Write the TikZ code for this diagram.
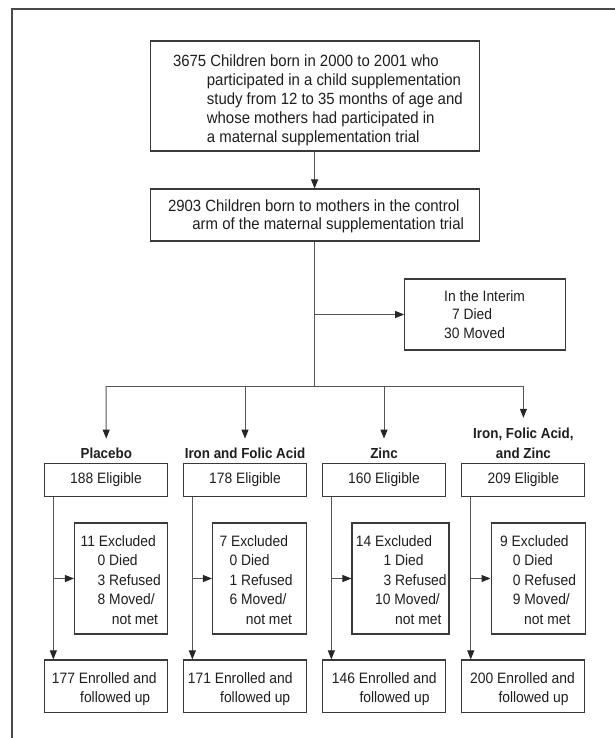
\documentclass[tikz,border=0pt]{standalone}
\usepackage{fontspec}
\setmainfont{Liberation Sans}[FakeStretch=0.92]
\usetikzlibrary{arrows.meta}
\definecolor{boxc}{HTML}{3A3A3A}
\definecolor{linec}{HTML}{555555}
\definecolor{txtc}{HTML}{1E1E1E}
\definecolor{framec}{HTML}{4A4A4A}
\newcommand\tlineB[4]{\node[txtbig] (#1) at (#2,#3) {#4};}
\newcommand\tlineS[4]{\node[txtsmall] (#1) at (#2,#3) {#4};}
\begin{document}
\begin{tikzpicture}[x=1bp,y=-1bp,
  box/.style={draw=boxc, line width=1.1bp, inner sep=0pt},
  conn/.style={draw=linec, line width=1bp},
  arr/.style={conn, -{Triangle[length=9bp,width=7bp,color=black!85]}},
  txtbig/.style={anchor=base west, inner sep=0pt, text=txtc, font=\fontsize{16.3}{19}\selectfont},
  txtsmall/.style={anchor=base west, inner sep=0pt, text=txtc, font=\fontsize{15.1}{19}\selectfont},
  lab/.style={anchor=base, inner sep=0pt, text=txtc, text height=10bp, text depth=0pt, font=\bfseries\fontsize{14.6}{19}\selectfont},
  elig/.style={box, minimum width=123bp, minimum height=33bp, text=txtc, text height=11bp, text depth=4bp, font=\fontsize{15.1}{19}\selectfont},
  enr/.style={box, minimum width=123bp, minimum height=52.7bp},
  excl/.style={box, minimum height=111bp}
]
\useasboundingbox (0,0) rectangle (615,738);
\draw[framec, line width=1.6bp] (11.8,738) -- (11.8,9.2) -- (615,9.2);

% top boxes
\node[box, minimum width=329bp, minimum height=110bp] (top) at (314.6,96) {};
\tlineB{t1}{172.8}{66.7}{3675 Children born in 2000 to 2001 who}
\tlineB{t2}{206.7}{85.8}{participated in a child supplementation}
\tlineB{t3}{206.7}{104.7}{study from 12 to 35 months of age and}
\tlineB{t4}{206.7}{123.5}{whose mothers had participated in}
\tlineB{t5}{206.7}{142.5}{a maternal supplementation trial}

\node[box, minimum width=329bp, minimum height=52bp] (mid) at (314.6,215) {};
\tlineB{m1}{167.8}{211.5}{2903 Children born to mothers in the control}
\tlineB{m2}{192.2}{229.1}{arm of the maternal supplementation trial}

\node[box, minimum width=160.8bp, minimum height=71bp] (interim) at (485.1,314.5) {};
\tlineS{i1}{444}{301.3}{In the Interim}
\tlineS{i2}{451.8}{319.6}{7 Died}
\tlineS{i3}{444}{338}{30 Moved}

% group labels
\node[lab] (lab1) at (106.3,458.3) {Placebo};
\node[lab] (lab2) at (245,458.3) {Iron and Folic Acid};
\node[lab] (lab3) at (384,458.3) {Zinc};
\node[lab] (lab4a) at (523.4,438.3) {Iron, Folic Acid,};
\node[lab] (lab4b) at (523.4,458.3) {and Zinc};

% eligible
\node[elig] (e1) at (106,480.2) {188 Eligible};
\node[elig] (e2) at (245,480.2) {178 Eligible};
\node[elig] (e3) at (384,480.2) {160 Eligible};
\node[elig] (e4) at (523.4,480.2) {209 Eligible};

% excluded
\node[excl, minimum width=93bp] (x1) at (121,578.5) {};
\node[excl, minimum width=94.2bp] (x2) at (259.6,578.5) {};
\node[excl, minimum width=97bp] (x3) at (400.5,578.5) {};
\node[excl, minimum width=94.7bp] (x4) at (538.4,578.5) {};

\tlineS{x1a}{80.5}{546.2}{11 Excluded}
\tlineS{x1b}{97.5}{565.9}{0 Died}
\tlineS{x1c}{97.5}{585.4}{3 Refused}
\tlineS{x1d}{97.5}{604.9}{8 Moved/}
\tlineS{x1e}{111.7}{624.2}{not met}

\tlineS{x2a}{219.3}{546.2}{7 Excluded}
\tlineS{x2b}{229.3}{565.9}{0 Died}
\tlineS{x2c}{229.3}{585.4}{1 Refused}
\tlineS{x2d}{229.3}{604.9}{6 Moved/}
\tlineS{x2e}{245.7}{624.2}{not met}

\tlineS{x3a}{355.7}{546.2}{14 Excluded}
\tlineS{x3b}{383.3}{565.9}{1 Died}
\tlineS{x3c}{383.3}{585.4}{3 Refused}
\tlineS{x3d}{375}{604.9}{10 Moved/}
\tlineS{x3e}{395}{624.2}{not met}

\tlineS{x4a}{500}{546.2}{9 Excluded}
\tlineS{x4b}{512.7}{565.9}{0 Died}
\tlineS{x4c}{512.7}{585.4}{0 Refused}
\tlineS{x4d}{512.7}{604.9}{9 Moved/}
\tlineS{x4e}{524}{624.2}{not met}

% enrolled
\node[enr] (n1) at (106,686.3) {};
\node[enr] (n2) at (245,686.3) {};
\node[enr] (n3) at (384,686.3) {};
\node[enr] (n4) at (523.4,686.3) {};
\tlineS{n1a}{51.7}{683.1}{177 Enrolled and}
\tlineS{n1b}{80}{702.1}{followed up}
\tlineS{n2a}{187.7}{683.1}{171 Enrolled and}
\tlineS{n2b}{220}{702.1}{followed up}
\tlineS{n3a}{331.7}{683.1}{146 Enrolled and}
\tlineS{n3b}{359.3}{702.1}{followed up}
\tlineS{n4a}{470}{683.1}{200 Enrolled and}
\tlineS{n4b}{498.3}{702.1}{followed up}

% connectors
\draw[arr] (top.south) -- (mid.north);
\coordinate (br) at (314.6,386);
\draw[conn] (mid.south) -- (br);
\coordinate (ij) at (mid.south |- interim.west);
\draw[arr] (ij) -- (interim.west);
\draw[conn] (e1 |- br) -- (e4 |- br);
\draw[arr, shorten >=9.5bp] (e1 |- br) -- (lab1.north);
\draw[arr, shorten >=9.5bp] (e2 |- br) -- (lab2.north);
\draw[arr, shorten >=9.5bp] (e3 |- br) -- (lab3.north);
\draw[arr, shorten >=10.3bp] (e4 |- br) -- (lab4a.north);

\foreach \i in {1,2,3,4}{
  \coordinate (v\i) at ([xshift=9.4bp]e\i.south west);
  \draw[arr] (v\i) -- (v\i |- n\i.north);
  \draw[arr] (v\i |- x\i.west) -- (x\i.west);
}
\end{tikzpicture}
\end{document}
